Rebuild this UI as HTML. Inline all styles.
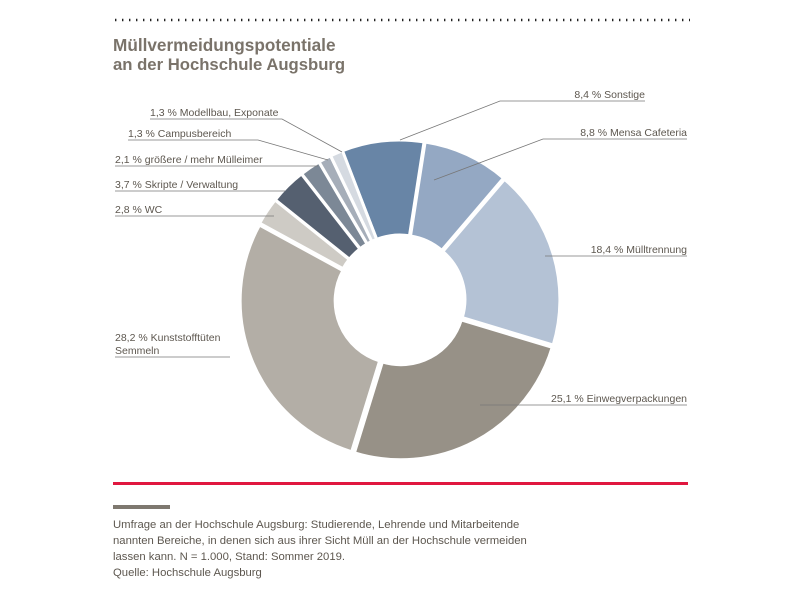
<!DOCTYPE html>
<html><head><meta charset="utf-8"><style>
body{margin:0;background:#fff;}
svg{display:block;font-family:"Liberation Sans",sans-serif;}
</style></head><body>
<svg id="s" width="800" height="600" viewBox="0 0 800 600">
<line x1="115" y1="20" x2="690" y2="20" stroke="#222" stroke-width="2.4" stroke-dasharray="1.4 5.6"/>
<text x="113" y="51" font-size="17.2" font-weight="bold" fill="#7a736a">Müllvermeidungspotentiale</text>
<text x="113" y="70" font-size="16.7" font-weight="bold" fill="#7a736a">an der Hochschule Augsburg</text>
<g id="pie"></g>
<g stroke="#777" stroke-width="0.8" fill="none">
<polyline points="150,119 282,119 342,152"/>
<polyline points="128,140 258,140 328,160"/>
<polyline points="115,166 318,166"/>
<polyline points="115,191 285,191"/>
<polyline points="115,216 274,216"/>
<polyline points="115,357 230,357"/>
<polyline points="687,405 508,405 480,405"/>
<polyline points="687,256 545,256 545,256"/>
<polyline points="687,139 543,139 434,180"/>
<polyline points="645,101 500,101 400,140"/>
</g>
<g font-size="10.5" fill="#5d574f">
<text x="150" y="116">1,3 % Modellbau, Exponate</text>
<text x="128" y="137">1,3 % Campusbereich</text>
<text x="115" y="163">2,1 % größere / mehr Mülleimer</text>
<text x="115" y="188">3,7 % Skripte / Verwaltung</text>
<text x="115" y="213">2,8 % WC</text>
<text x="115" y="341">28,2 % Kunststofftüten</text>
<text x="115" y="354">Semmeln</text>
<text x="687" y="402" text-anchor="end">25,1 % Einwegverpackungen</text>
<text x="687" y="253" text-anchor="end">18,4 % Mülltrennung</text>
<text x="687" y="136" text-anchor="end">8,8 % Mensa Cafeteria</text>
<text x="645" y="98" text-anchor="end">8,4 % Sonstige</text>
</g>
<rect x="113" y="482" width="575" height="3" fill="#e0173f"/>
<rect x="113" y="505" width="57" height="4" fill="#7e786f"/>
<g font-size="11.3" fill="#5d574f">
<text x="113" y="528">Umfrage an der Hochschule Augsburg: Studierende, Lehrende und Mitarbeitende</text>
<text x="113" y="544">nannten Bereiche, in denen sich aus ihrer Sicht Müll an der Hochschule vermeiden</text>
<text x="113" y="560">lassen kann. N = 1.000, Stand: Sommer 2019.</text>
<text x="113" y="576">Quelle: Hochschule Augsburg</text>
</g>
</svg>
<script>
var d=[[8.4,"#6885a6"],[8.8,"#94a8c3"],[18.4,"#b4c2d5"],[25.1,"#979187"],[28.2,"#b3aea6"],[2.8,"#cecbc5"],[3.7,"#556070"],[2.1,"#7c8896"],[1.3,"#a6aeb9"],[1.3,"#d5dae1"]];
var cx=400,cy=300,R=158,r=63,a=-21.4,h="";
function p(ang,rad,ox,oy){var t=(ang-90)*Math.PI/180;return (cx+ox+rad*Math.cos(t)).toFixed(2)+","+(cy+oy+rad*Math.sin(t)).toFixed(2);}
d.forEach(function(s){var sw=s[0]*3.6,m=(a+sw/2-90)*Math.PI/180,ox=2*Math.cos(m),oy=2*Math.sin(m),e=a+sw,l=sw>180?1:0;
h+='<path d="M'+p(a,R,ox,oy)+' A'+R+','+R+' 0 '+l+' 1 '+p(e,R,ox,oy)+' L'+p(e,r,ox,oy)+' A'+r+','+r+' 0 '+l+' 0 '+p(a,r,ox,oy)+'Z" fill="'+s[1]+'" stroke="#fff" stroke-width="3"/>';a=e;});
document.getElementById("pie").innerHTML=h;
</script>
</body></html>
